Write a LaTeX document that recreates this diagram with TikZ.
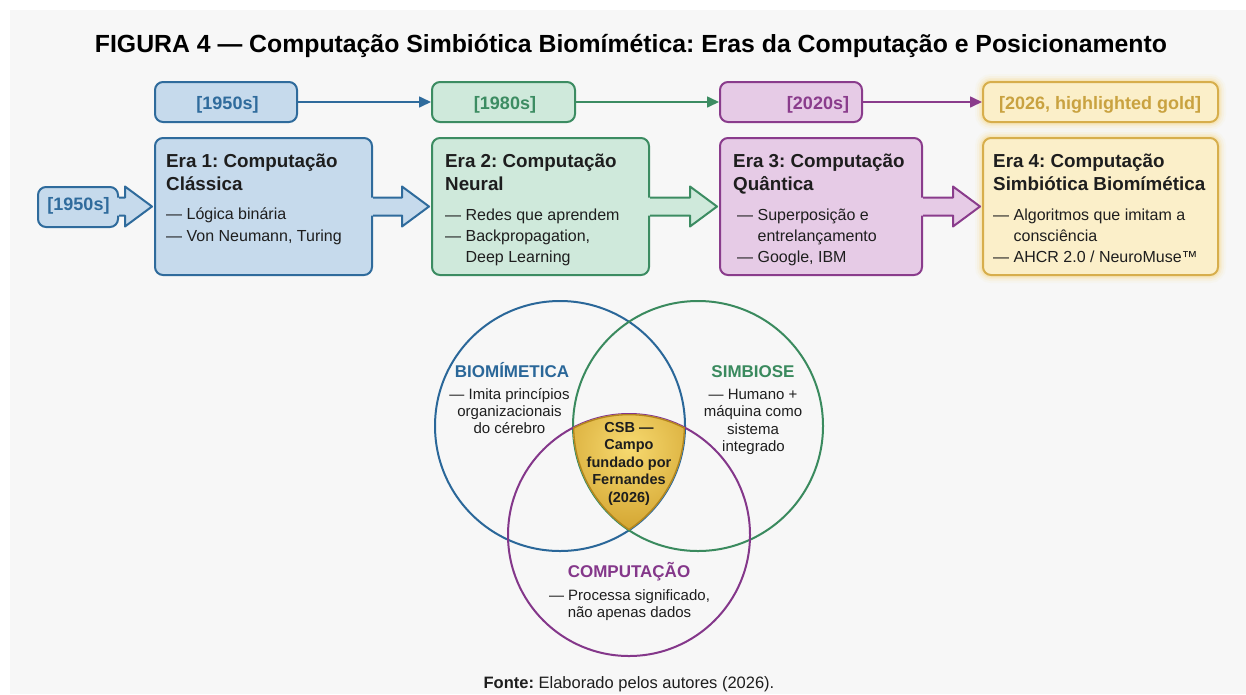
\documentclass[tikz,border=0pt]{standalone}
\usepackage{fontspec}
\setmainfont{Liberation Sans}
\usetikzlibrary{arrows.meta,calc}
\frenchspacing

\definecolor{panelbg}{HTML}{F7F7F7}
\definecolor{txt}{HTML}{1E1E1E}
\definecolor{bD}{HTML}{2F6B9C}
\definecolor{bF}{HTML}{C6DAEC}
\definecolor{gD}{HTML}{3C8C62}
\definecolor{gF}{HTML}{CFE9DB}
\definecolor{pD}{HTML}{8A3C8C}
\definecolor{pF}{HTML}{E6CBE6}
\definecolor{yD}{HTML}{D7AE4C}
\definecolor{yF}{HTML}{FBEFC9}
\definecolor{yT}{HTML}{C9A240}
\definecolor{yG}{HTML}{F6D77A}
\definecolor{shL}{HTML}{F7DA70}
\definecolor{shD}{HTML}{CC9A24}
\definecolor{shB}{HTML}{B3851C}
\definecolor{vB}{HTML}{2A6799}
\definecolor{vG}{HTML}{3A8A5E}
\definecolor{vP}{HTML}{84378A}

\tikzset{
  box/.style 2 args={draw=#1, fill=#2, line width=2pt, rounded corners=8pt, inner sep=0pt},
  datetxt/.style={font=\fontsize{18}{20}\selectfont\bfseries, inner sep=0pt, anchor=base},
  eratitle/.style={font=\fontsize{18.8}{22}\selectfont\bfseries, text=txt, inner sep=0pt, anchor=base west},
  bullet/.style={font=\fontsize{16}{18}\selectfont, text=txt, inner sep=0pt, anchor=base west},
  venhead/.style={font=\fontsize{17}{19}\selectfont\bfseries, inner sep=0pt, anchor=base},
  ventxt/.style={font=\fontsize{15}{17}\selectfont, text=txt, inner sep=0pt, anchor=base},
  csbtxt/.style={font=\fontsize{14.5}{16}\selectfont\bfseries, text=txt, inner sep=0pt, anchor=base},
  timeline/.style={line width=1.6pt, -{Triangle[length=12pt,width=11pt]}},
  vcirc/.style 2 args={draw=#1, line width=2pt, circle, minimum size=#2, inner sep=0pt},
  fatline/.style={line width=2pt, line join=round},
}

\newcommand{\fatarrow}[4]{%
  \fill[#3] let \p1=(#1.east), \p2=(#2.west), \n1={\x2-2pt}, \n2={\x2-29pt} in
    (\x1-3pt,\y2+9pt) -- (\n2,\y2+9pt) -- (\n2,\y2+20pt) -- (\n1,\y2) --
    (\n2,\y2-20pt) -- (\n2,\y2-9pt) -- (\x1-3pt,\y2-9pt) -- cycle;
  \draw[fatline, #4] let \p1=(#1.east), \p2=(#2.west), \n1={\x2-2pt}, \n2={\x2-29pt} in
    (\x1,\y2+9pt) -- (\n2,\y2+9pt) -- (\n2,\y2+20pt) -- (\n1,\y2) --
    (\n2,\y2-20pt) -- (\n2,\y2-9pt) -- (\x1,\y2-9pt);
}

\begin{document}
\begin{tikzpicture}[x=1pt,y=-1pt]
\useasboundingbox (0,0) rectangle (1246,694);
\fill[white] (0,0) rectangle (1246,694);
\fill[panelbg] (10,10) rectangle (1246,694);

% title
\node (title) [font=\fontsize{24.8}{28}\selectfont\bfseries, text=black, inner sep=0pt, anchor=base]
  at (631,52) {FIGURA 4 — Computação Simbiótica Biomímética: Eras da Computação e Posicionamento};

% glow for gold boxes
\foreach \w/\o in {16/0.06, 12/0.10, 8/0.16, 5/0.25} {
  \draw[yG, line width=\w pt, opacity=\o, rounded corners=8pt] (983,82) rectangle (1218,122);
  \draw[yG, line width=\w pt, opacity=\o, rounded corners=8pt] (983,138) rectangle (1218,275);
}

% date boxes
\node (d1) [box={bD}{bF}, minimum width=142pt, minimum height=40pt] at (226,102) {};
\node (d2) [box={gD}{gF}, minimum width=143pt, minimum height=40pt] at (503.5,102) {};
\node (d3) [box={pD}{pF}, minimum width=142pt, minimum height=40pt] at (791,102) {};
\node (d4) [box={yD}{yF}, minimum width=235pt, minimum height=40pt] at (1100.5,102) {};

\node (t1) [datetxt, text=bD] at (227.5,109) {[1950s]};
\node (t2) [datetxt, text=gD] at (505,109) {[1980s]};
\node (t3) [datetxt, text=pD] at (818,109) {[2020s]};
\node (t4) [datetxt, text=yT] at (1100,109) {[2026, highlighted gold]};

\draw[timeline, bD] (d1.east) -- (d2.west);
\draw[timeline, gD] (d2.east) -- (d3.west);
\draw[timeline, pD] (d3.east) -- (d4.west);

% era boxes
\node (lb) [box={bD}{bF}, minimum width=80pt, minimum height=40pt] at (78,207) {};
\node (tl) [datetxt, text=bD] at (78.5,210) {[1950s]};
\node (e1) [box={bD}{bF}, minimum width=217pt, minimum height=137pt] at (263.5,206.5) {};
\node (e2) [box={gD}{gF}, minimum width=217pt, minimum height=137pt] at (540.5,206.5) {};
\node (e3) [box={pD}{pF}, minimum width=202pt, minimum height=137pt] at (821,206.5) {};
\node (e4) [box={yD}{yF}, minimum width=235pt, minimum height=137pt] at (1100.5,206.5) {};

\fatarrow{lb}{e1}{bF}{bD}
\fatarrow{e1}{e2}{bF}{bD}
\fatarrow{e2}{e3}{gF}{gD}
\fatarrow{e3}{e4}{pF}{pD}

% era 1
\node (e1a) [eratitle] at (166,167) {Era 1: Computação};
\node (e1b) [eratitle] at (166,190.5) {Clássica};
\node (e1c) [bullet] at (166,219.5) {— Lógica binária};
\node (e1d) [bullet] at (166,241) {— Von Neumann, Turing};
% era 2
\node (e2a) [eratitle] at (445,167) {Era 2: Computação};
\node (e2b) [eratitle] at (445,190.5) {Neural};
\node (e2c) [bullet] at (445,220) {— Redes que aprendem};
\node (e2d) [bullet] at (445,241) {— Backpropagation,};
\node (e2e) [bullet] at (445,262) {\phantom{— }Deep Learning};
% era 3
\node (e3a) [eratitle] at (733,167) {Era 3: Computação};
\node (e3b) [eratitle] at (733,190.5) {Quântica};
\node (e3c) [bullet] at (737,220) {— Superposição e};
\node (e3d) [bullet] at (737,241) {\phantom{— }entrelançamento};
\node (e3e) [bullet] at (737,262) {— Google, IBM};
% era 4
\node (e4a) [eratitle] at (993,167) {Era 4: Computação};
\node (e4b) [eratitle] at (993,190.5) {Simbiótica Biomímética};
\node (e4c) [bullet] at (993,220) {— Algoritmos que imitam a};
\node (e4d) [bullet] at (993,241) {\phantom{— }consciência};
\node (e4e) [bullet] at (993,262) {— AHCR 2.0 / NeuroMuse™};

% venn
\node (cb) [vcirc={vB}{250pt}] at (560,426) {};
\node (cg) [vcirc={vG}{250pt}] at (698,426) {};
\node (cp) [vcirc={vP}{242pt}] at (629,535) {};

\begin{scope}
  \clip (560,426) circle (125pt);
  \clip (698,426) circle (125pt);
  \clip (629,535) circle (121pt);
  \shade[inner color=shL, outer color=shD] (629,448) circle (100pt);
  \draw[shB, line width=2.6pt] (560,426) circle (125pt) (698,426) circle (125pt) (629,535) circle (121pt);
\end{scope}

\node (vbh) [venhead, text=vB] at (512,377) {BIOMÍMETICA};
\node (vb1) [ventxt] at (509.5,399.5) {— Imita princípios};
\node (vb2) [ventxt] at (509.5,416.5) {organizacionais};
\node (vb3) [ventxt] at (509.5,433.5) {do cérebro};

\node (vgh) [venhead, text=vG] at (753,377) {SIMBIOSE};
\node (vg1) [ventxt] at (753,399.5) {— Humano +};
\node (vg2) [ventxt] at (753,416.5) {máquina como};
\node (vg3) [ventxt] at (753,434) {sistema};
\node (vg4) [ventxt] at (753.5,451.5) {integrado};

\node (cs1) [csbtxt] at (629,432) {CSB —};
\node (cs2) [csbtxt] at (629,449.5) {Campo};
\node (cs3) [csbtxt] at (629,467) {fundado por};
\node (cs4) [csbtxt] at (629,484.5) {Fernandes};
\node (cs5) [csbtxt] at (629,502) {(2026)};

\node (vph) [venhead, text=vP] at (629,577) {COMPUTAÇÃO};
\node (vp1) [ventxt] at (629.5,600) {— Processa significado,};
\node (vp2) [ventxt] at (629.5,617) {não apenas dados};

% footer
\node (foot) [font=\fontsize{16.5}{18}\selectfont, text=txt, inner sep=0pt, anchor=base]
  at (629,688) {\textbf{Fonte:} Elaborado pelos autores (2026).};
\end{tikzpicture}
\end{document}
